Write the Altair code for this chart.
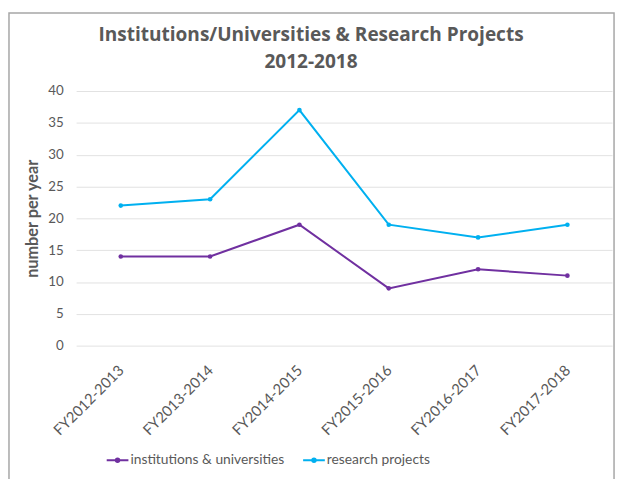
import altair as alt
import pandas as pd

years = ["FY2012-2013", "FY2013-2014", "FY2014-2015", "FY2015-2016", "FY2016-2017", "FY2017-2018"]
institutions = [14, 14, 19, 9, 12, 11]
research = [22, 23, 37, 19, 17, 19]
series_names = ["institutions & universities", "research projects"]
series_colors = ["#7030A0", "#00B0F0"]
title_lines = ["Institutions/Universities & Research Projects", "2012-2018"]
y_ticks = [0, 5, 10, 15, 20, 25, 30, 35, 40]

rows = []
for y, v in zip(years, institutions):
    rows.append({"year": y, "value": v, "series": series_names[0]})
for y, v in zip(years, research):
    rows.append({"year": y, "value": v, "series": series_names[1]})
df = pd.DataFrame(rows)

FONT = "Lato"
TFONT = "Open Sans"
GRAY = "#595959"

legend_symbol = "M-1,0 L1,0 M-0.16,0 A0.16,0.16 0 1,0 0.16,0 A0.16,0.16 0 1,0 -0.16,0"

x_enc = alt.X("year:N", sort=years, title=None,
              scale=alt.Scale(paddingInner=1, paddingOuter=0.5, align=0.5),
              axis=alt.Axis(labelAngle=-45, labelAlign="right", labelBaseline="middle",
                            labelFontSize=15, labelColor=GRAY, labelFont=FONT,
                            ticks=False, domain=False, grid=False, labelPadding=22,
                            labelOverlap=False))
y_enc = alt.Y("value:Q", title="number per year",
              scale=alt.Scale(domain=[0, 40]),
              axis=alt.Axis(values=y_ticks, labelFontSize=13.5,
                            labelColor=GRAY, labelFont=FONT, ticks=False, domain=False,
                            labelPadding=13, gridColor="#E2E2E2", gridWidth=1,
                            labelOverlap=False,
                            titleFont=FONT, titleFontSize=16.5, titleColor=GRAY,
                            titleFontWeight="bold", titlePadding=7))
scale_c = alt.Scale(domain=series_names, range=series_colors)
color_enc = alt.Color("series:N", scale=scale_c,
                      legend=alt.Legend(title=None, orient="none", direction="horizontal",
                                        legendX=30, legendY=362,
                                        symbolType=legend_symbol, symbolSize=484,
                                        symbolStrokeWidth=2, labelFont=FONT,
                                        labelFontSize=14, labelColor=GRAY,
                                        labelLimit=400,
                                        labelOffset=1, columnPadding=14))

base = alt.Chart(df)
lines = base.mark_line(strokeWidth=2).encode(x=x_enc, y=y_enc, color=color_enc)
points = base.mark_circle(size=22, opacity=1).encode(
    x=x_enc, y=y_enc, color=color_enc)

border = alt.Chart(pd.DataFrame({"a": [0]})).mark_rect(
    fill=None, stroke="#A6A6A6", strokeWidth=1.5).encode(
    x=alt.value(-68), x2=alt.value(545), y=alt.value(-79), y2=alt.value(400))

title1 = alt.Chart(pd.DataFrame({"t": [title_lines[0]]})).mark_text(
    font=TFONT, fontSize=19.3, fontWeight="bold", color=GRAY, align="center", baseline="middle"
).encode(text="t:N", x=alt.value(238), y=alt.value(-57))
title2 = alt.Chart(pd.DataFrame({"t": [title_lines[1]]})).mark_text(
    font=TFONT, fontSize=19.3, fontWeight="bold", color=GRAY, align="center", baseline="middle"
).encode(text="t:N", x=alt.value(238), y=alt.value(-29))

chart = alt.layer(border, lines, points, title1, title2).properties(
    width=543, height=258,
    autosize=alt.AutoSizeParams(type="none"),
    padding={"left": 69, "top": 81, "right": 5, "bottom": 132},
).configure_view(stroke=None)

chart.save("out.html", embed_options={"renderer": "svg", "actions": False})
